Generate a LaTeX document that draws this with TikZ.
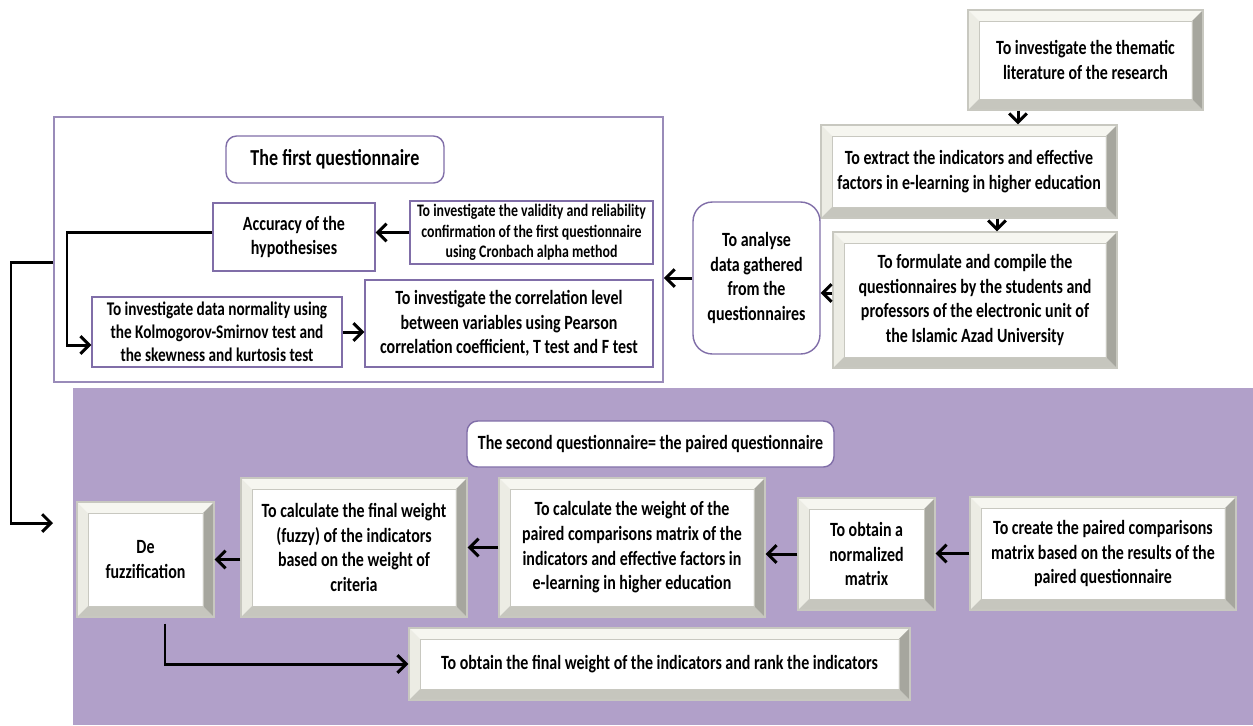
\documentclass[tikz,border=0pt]{standalone}
\usepackage{fontspec}
\setmainfont{Carlito}[FakeStretch=0.79]
\usepackage{tikz}
\usetikzlibrary{arrows.meta}
\definecolor{lilac}{RGB}{177,160,201}
\definecolor{lilacline}{RGB}{128,110,168}
\definecolor{bevtop}{RGB}{246,246,240}
\definecolor{bevleft}{RGB}{236,236,228}
\definecolor{bevright}{RGB}{166,166,158}
\definecolor{bevbottom}{RGB}{198,198,190}
\definecolor{bevedge}{RGB}{200,200,192}
\newcommand\bevw{0.22cm}
\tikzset{txt/.style={font=\bfseries\fontsize{11.5}{14}\selectfont, align=center, inner sep=2pt},
 small/.style={font=\bfseries\fontsize{10}{11.5}\selectfont},
 bevel/.style={txt, rectangle, fill=white, draw=bevedge, line width=0.8pt,
  path picture={
   \coordinate (bnw) at (path picture bounding box.north west);
   \coordinate (bne) at (path picture bounding box.north east);
   \coordinate (bse) at (path picture bounding box.south east);
   \coordinate (bsw) at (path picture bounding box.south west);
   \fill[bevtop] (bnw) -- (bne) -- ([shift={(-\bevw,-\bevw)}]bne) -- ([shift={(\bevw,-\bevw)}]bnw) -- cycle;
   \fill[bevleft] (bnw) -- (bsw) -- ([shift={(\bevw,\bevw)}]bsw) -- ([shift={(\bevw,-\bevw)}]bnw) -- cycle;
   \fill[bevbottom] (bsw) -- (bse) -- ([shift={(-\bevw,\bevw)}]bse) -- ([shift={(\bevw,\bevw)}]bsw) -- cycle;
   \fill[bevright] (bse) -- (bne) -- ([shift={(-\bevw,-\bevw)}]bne) -- ([shift={(-\bevw,\bevw)}]bse) -- cycle;
   \draw[bevedge, line width=0.4pt] ([shift={(\bevw,-\bevw)}]bnw) rectangle ([shift={(-\bevw,\bevw)}]bse);
  }},
 plain/.style={txt, rectangle, draw=lilacline, line width=0.8pt, fill=white},
 soft/.style={plain, rounded corners=6pt},
 arr/.style={line width=1.7pt, -{Straight Barb[length=5pt,width=10pt]}},
 }

\begin{document}
\begin{tikzpicture}[x=0.02cm, y=-0.02cm]
    \useasboundingbox (0,0) rectangle (1253,725);
    \fill[lilac] (73,388) rectangle (1253,725);

    \node[bevel, minimum width=4.70cm, minimum height=2.00cm] (lit) at (1085.5,60)
        {To investigate the thematic\\literature of the research};
    \node[bevel, minimum width=5.92cm, minimum height=1.86cm] (ext) at (969,171.5)
        {To extract the indicators and effective\\factors in e-learning in higher education};
    \node[bevel, minimum width=5.68cm, minimum height=2.72cm] (form) at (975,300)
        {To formulate and compile the\\questionnaires by the students and\\professors of the electronic unit of\\the Islamic Azad University};
    \node[soft, rounded corners=11pt, minimum width=2.54cm, minimum height=3.04cm] (anal) at (756.5,278)
        {To analyse\\data gathered\\from the\\questionnaires};

    \node[plain, draw=lilacline!80, line width=1pt, minimum width=12.18cm, minimum height=5.30cm] (frame) at (358.5,249.5) {};
    \node[soft, font=\bfseries\fontsize{13}{15}\selectfont, minimum width=4.36cm, minimum height=0.94cm] (qone) at (335,159.5)
        {The first questionnaire};
    \node[plain, minimum width=3.24cm, minimum height=1.36cm] (acc) at (294,237)
        {Accuracy of the\\hypothesises};
    \node[plain, small, minimum width=4.86cm, minimum height=1.26cm] (valid) at (531.5,232.5)
        {To investigate the validity and reliability\\confirmation of the first questionnaire\\using Cronbach alpha method};
    \node[plain, font=\bfseries\fontsize{11}{13}\selectfont, minimum width=5.00cm, minimum height=1.40cm] (norm) at (217,332)
        {To investigate data normality using\\the Kolmogorov-Smirnov test and\\the skewness and kurtosis test};
    \node[plain, minimum width=5.76cm, minimum height=1.74cm] (corr) at (509,323.5)
        {To investigate the correlation level\\between variables using Pearson\\correlation coefficient, T test and F test};

    \node[soft, minimum width=7.34cm, minimum height=0.92cm] (qtwo) at (650.5,444)
        {The second questionnaire= the paired questionnaire};
    \node[bevel, minimum width=2.74cm, minimum height=2.30cm] (defz) at (145.5,559.5)
        {De\\fuzzification};
    \node[bevel, minimum width=4.52cm, minimum height=2.78cm] (fuzw) at (354,547.5)
        {To calculate the final weight\\(fuzzy) of the indicators\\based on the weight of\\criteria};
    \node[bevel, minimum width=5.32cm, minimum height=2.78cm] (pairw) at (632,547.5)
        {To calculate the weight of the\\paired comparisons matrix of the\\indicators and effective factors in\\e-learning in higher education};
    \node[bevel, minimum width=2.74cm, minimum height=2.24cm] (nmat) at (866.5,554)
        {To obtain a\\normalized\\matrix};
    \node[bevel, minimum width=5.32cm, minimum height=2.26cm] (create) at (1103,553.5)
        {To create the paired comparisons\\matrix based on the results of the\\paired questionnaire};
    \node[bevel, minimum width=10.02cm, minimum height=1.44cm] (final) at (659.5,664)
        {To obtain the final weight of the indicators and rank the indicators};

    \coordinate (litout) at ([xshift=-1.35cm]lit.south);
    \coordinate (extout) at ([xshift=0.56cm]ext.south);
    \coordinate (formout) at ([yshift=0.14cm]form.west);
    \draw[arr] (litout) -- (litout |- ext.north);
    \draw[arr] (extout) -- (extout |- form.north);
    \draw[arr] (formout) -- (formout -| anal.east);
    \draw[arr] (anal.west) -- (anal.west -| frame.east);
    \draw[arr] (valid.west) -- (valid.west -| acc.east);
    \draw[arr] (norm.east) -- (norm.east -| corr.west);

    \coordinate (accbend) at (67,232);
    \coordinate (normin) at ([yshift=-0.26cm]norm.west);
    \draw[arr] (acc.west |- accbend) -- (accbend) |- (normin);
    \coordinate (outbend) at (11,262);
    \coordinate (outend) at (53,523);
    \draw[arr] (frame.west |- outbend) -- (outbend) |- (outend);

    \draw[arr] (create.west) -- (create.west -| nmat.east);
    \draw[arr] (nmat.west) -- (nmat.west -| pairw.east);
    \draw[arr] (pairw.west) -- (pairw.west -| fuzw.east);
    \draw[arr] ([yshift=-0.24cm]fuzw.west) -- ([yshift=-0.24cm]fuzw.west -| defz.east);
    \coordinate (defzout) at ([xshift=0.39cm, yshift=-0.12cm]defz.south);
    \draw[arr] (defzout) |- (final.west);
\end{tikzpicture}
\end{document}
